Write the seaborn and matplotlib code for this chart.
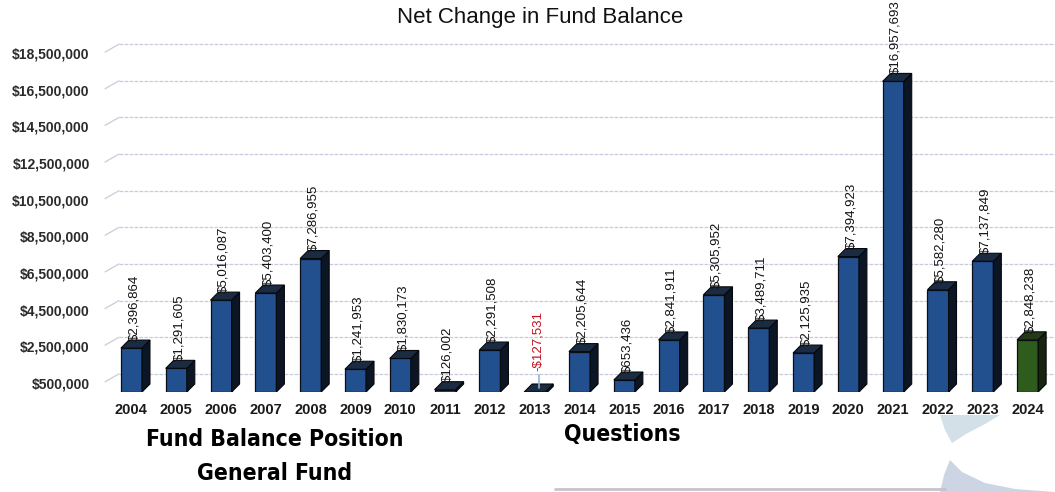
import numpy as np
import pandas as pd
import matplotlib
matplotlib.use("Agg")
import matplotlib.pyplot as plt
import seaborn as sns
from matplotlib.patches import Polygon
from matplotlib.transforms import offset_copy
from matplotlib import font_manager

# ---------------- data ----------------
years = [str(y) for y in range(2004, 2025)]
values = [2396864, 1291605, 5016087, 5403400, 7286955, 1241953, 1830173,
          126002, 2291508, -127531, 2205644, 653436, 2841911, 5305952,
          3489711, 2125935, 7394923, 16957693, 5582280, 7137849, 2848238]
kinds = ["actual"] * 20 + ["current"]
ytick_values = list(range(500000, 18500001, 2000000))

title = "Net Change in Fund Balance"
footer_left = ["Fund Balance Position", "General Fund"]
footer_right = "Questions"

def money(v):
    return ("-$" if v < 0 else "$") + f"{abs(v):,}"

df = pd.DataFrame({"year": years, "value": values, "kind": kinds})

# ---------------- style ----------------
sns.set_theme(style="white")
plt.rcParams["font.family"] = ["Liberation Sans", "DejaVu Sans"]
names = {f.name for f in font_manager.fontManager.ttflist}
cond = [f for f in font_manager.fontManager.ttflist
        if f.name == "DejaVu Sans" and str(f.stretch) in ("condensed", "semi-condensed")]
if "Liberation Sans Narrow" in names:
    foot_kw = dict(family=["Liberation Sans Narrow", "DejaVu Sans"], fontsize=20)
elif cond:
    foot_kw = dict(family=["DejaVu Sans"], fontstretch="condensed", fontsize=16.5)
else:
    foot_kw = dict(family=["Liberation Sans", "DejaVu Sans"], fontsize=16)

W, H = 1055, 492
fig = plt.figure(figsize=(W / 100, H / 100), dpi=100)
ax = fig.add_axes([105 / W, 1 - 392 / H, (1050 - 105) / W, (392 - 44) / H])

front = {"actual": "#22508f", "current": "#2e5c1c"}
topc = {"actual": "#1b2b42", "current": "#24381a"}
sidec = {"actual": "#0c1524", "current": "#17240f"}

sns.barplot(data=df, x="year", y="value", hue="kind", palette=front,
            width=0.47, dodge=False, legend=False, ax=ax, saturation=1,
            edgecolor="#0a0f18", linewidth=0.9, zorder=3)

ax.set_xlim(-0.59, 20.5)
ax.set_ylim(0, 19e6)
for s in ax.spines.values():
    s.set_visible(False)
ax.set_xlabel("")
ax.set_ylabel("")

# pixel -> data scales for the 3D depth
p0 = ax.transData.transform((0, 0))
px_x = ax.transData.transform((1, 0))[0] - p0[0]
px_y = ax.transData.transform((0, 1e6))[1] - p0[1]
dx = 8 / px_x
dy = 8 / px_y * 1e6

# back-wall gridlines
grid_tr = offset_copy(ax.transData, fig=fig, x=14, y=9, units="dots")
for v in ytick_values:
    ax.plot([-0.59, 20.5], [v, v], transform=grid_tr, color="#cacade",
            lw=0.9, ls=(0, (3, 1)), zorder=1, clip_on=False)
    ax.plot([-0.59 - 14 / px_x, -0.59], [v - 8 / px_y * 1e6, v],
            transform=grid_tr, color="#cacade", lw=0.9, zorder=1, clip_on=False)

# 3D faces and labels
bars = sorted(ax.patches, key=lambda p: p.get_x())
for i, p in enumerate(bars):
    k = kinds[i]
    x, w = p.get_x(), p.get_width()
    y0, h = p.get_y(), p.get_height()
    lo, hi = min(y0, y0 + h), max(y0, y0 + h)
    top = Polygon([(x, hi), (x + w, hi), (x + w + dx, hi + dy), (x + dx, hi + dy)],
                  closed=True, facecolor=topc[k], edgecolor="#05080d", lw=0.8, zorder=4)
    side = Polygon([(x + w, lo), (x + w + dx, lo + dy), (x + w + dx, hi + dy), (x + w, hi)],
                   closed=True, facecolor=sidec[k], edgecolor="#05080d", lw=0.8, zorder=4)
    ax.add_patch(side)
    ax.add_patch(top)
    v = values[i]
    if v < 0:
        base = 21 / px_y * 1e6
        ax.plot([x + w / 2 + dx / 2] * 2, [hi + dy * 0.5, base - 4 / px_y * 1e6],
                color="#8fb4d8", lw=1.2, zorder=5)
        ax.text(x + w / 2 + 0.06, base, money(v), rotation=90, ha="center",
                va="bottom", fontsize=9.5, color="#c0101a", zorder=6, clip_on=False)
    else:
        ax.text(x + w / 2 + 0.06, hi + dy * 0.9, money(v), rotation=90, ha="center",
                va="bottom", fontsize=9.5, color="#111111", zorder=6, clip_on=False)

ax.set_yticks(ytick_values)
ax.set_yticklabels([money(v) for v in ytick_values])
ax.tick_params(axis="y", length=0, pad=11, labelsize=10, labelcolor="#2a2a2a")
ax.tick_params(axis="x", length=0, pad=8, labelsize=10.5, labelcolor="#1a1a1a")
for t in ax.get_yticklabels() + ax.get_xticklabels():
    t.set_fontweight("bold")

fig.text(540 / W, 1 - 17 / H, title, ha="center", va="center", fontsize=16,
         color="#111111")

fig.text(275 / W, 1 - 440 / H, footer_left[0], ha="center", va="center",
         fontweight="bold", color="#000000", **foot_kw)
fig.text(275 / W, 1 - 474 / H, footer_left[1], ha="center", va="center",
         fontweight="bold", color="#000000", **foot_kw)
fig.text(622 / W, 1 - 435 / H, footer_right, ha="center", va="center",
         fontweight="bold", color="#000000", **foot_kw)

# slide decorations
def fp(pts):
    return [(px / W, 1 - py / H) for px, py in pts]

fig.add_artist(plt.Line2D([555 / W, 945 / W], [1 - 489 / H, 1 - 489 / H],
                          color="#c4c4cc", lw=2))
fig.add_artist(Polygon(fp([(940, 415), (1000, 415), (985, 424), (966, 434),
                           (952, 443), (945, 430)]), closed=True,
                       transform=fig.transFigure, facecolor="#d3e0e8", edgecolor="none"))
fig.add_artist(Polygon(fp([(950, 460), (962, 472), (985, 483), (1015, 489),
                           (1055, 492), (940, 492), (944, 475)]), closed=True,
                       transform=fig.transFigure, facecolor="#cdd5e4", edgecolor="none"))

fig.savefig("out.png", dpi=100, facecolor="white")
